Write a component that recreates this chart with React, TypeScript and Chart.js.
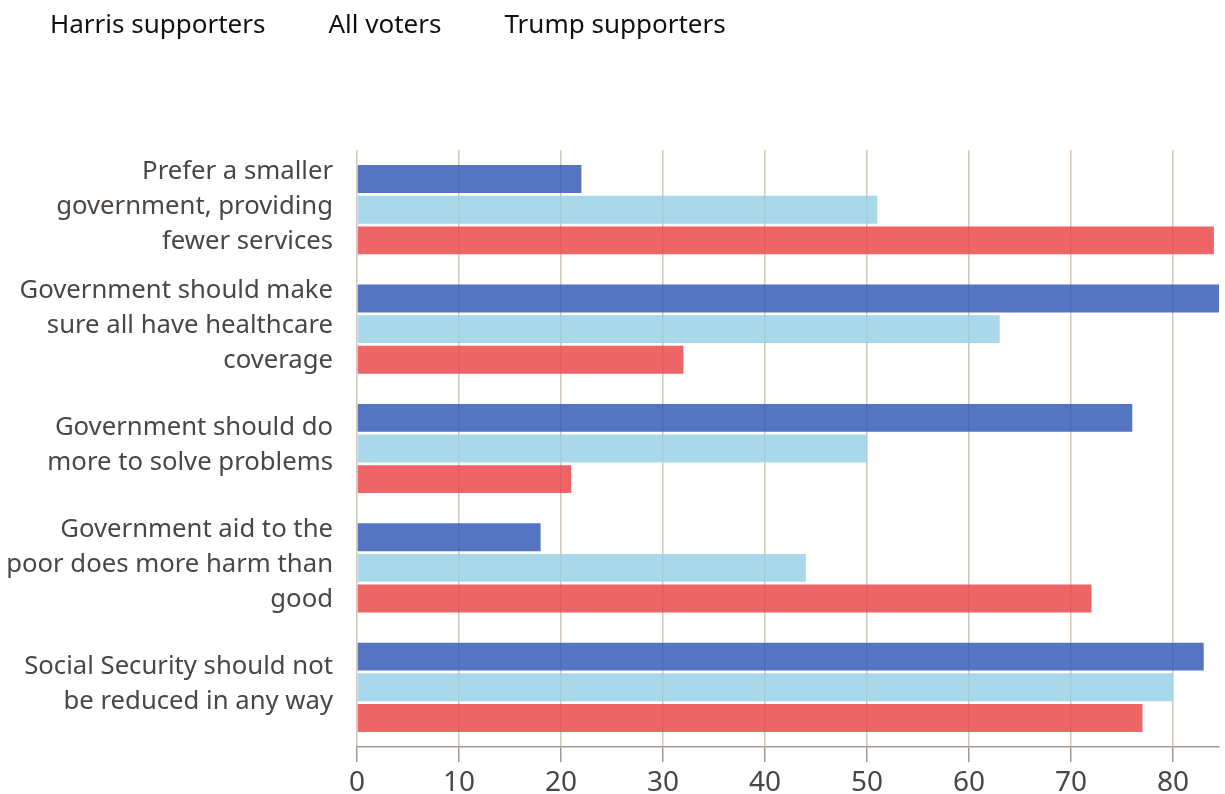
import React, { useEffect, useRef } from "react";
import { Chart, registerables } from "chart.js";

Chart.register(...registerables);

const categories: string[][] = [
  ["Prefer a smaller", "government, providing", "fewer services"],
  ["Government should make", "sure all have healthcare", "coverage"],
  ["Government should do", "more to solve problems"],
  ["Government aid to the", "poor does more harm than", "good"],
  ["Social Security should not", "be reduced in any way"],
];

const seriesNames = ["Harris supporters", "All voters", "Trump supporters"];
const harris = [22, 85, 76, 18, 83];
const allVoters = [51, 63, 50, 44, 80];
const trump = [84, 32, 21, 72, 77];
const xTicks = [0, 10, 20, 30, 40, 50, 60, 70, 80];

const colors = [
  "rgba(48,87,181,0.82)",
  "rgba(149,207,229,0.82)",
  "rgba(234,67,71,0.82)",
];

const FONT = "'Noto Sans', sans-serif";

export default function App() {
  const ref = useRef<HTMLCanvasElement | null>(null);
  useEffect(() => {
    if (!ref.current) return;
    const series = [harris, allVoters, trump];
    const chart = new Chart(ref.current, {
      type: "bar",
      data: {
        labels: categories,
        datasets: series.map((d, i) => ({
          label: seriesNames[i],
          data: d,
          backgroundColor: colors[i],
          borderWidth: 0,
          categoryPercentage: 0.77,
          barPercentage: 0.91,
        })),
      },
      options: {
        indexAxis: "y",
        responsive: false,
        animation: false,
        layout: { padding: { left: 0, right: 6, top: 0, bottom: 0 } },
        plugins: {
          tooltip: { enabled: false },
          legend: {
            display: true,
            position: "top",
            align: "start",
            labels: {
              boxWidth: 37,
              boxHeight: 26,
              padding: 13,
              color: "#111111",
              font: { family: FONT, size: 26 },
              generateLabels: (c: any) =>
                c.data.datasets.map((ds: any, i: number) => ({
                  text: ds.label,
                  fillStyle: "rgba(0,0,0,0)",
                  strokeStyle: "rgba(0,0,0,0)",
                  lineWidth: 0,
                  fontColor: "#111111",
                  hidden: false,
                  datasetIndex: i,
                })),
            },
          },
        },
        scales: {
          x: {
            type: "linear",
            min: 0,
            max: 84.5,
            afterFit: (s: any) => {
              s.height = 47;
            },
            afterBuildTicks: (s: any) => {
              s.ticks = xTicks.map((v) => ({ value: v }));
            },
            ticks: {
              includeBounds: false,
              color: "#4a4644",
              padding: 4,
              font: { family: FONT, size: 28 },
            },
            grid: {
              color: "#d2c6bb",
              lineWidth: 1.5,
              tickColor: "#a19a94",
              tickLength: 15,
              drawTicks: true,
            },
            border: { display: true, color: "#a19a94", width: 1.5 },
          },
          y: {
            type: "category",
            afterFit: (s: any) => {
              s.width = 370;
              s.paddingTop = 0;
              s.paddingBottom = 0;
            },
            ticks: {
              color: "#4a4644",
              padding: 24,
              labelOffset: -3,
              font: { family: FONT, size: 25.7, lineHeight: 1.362 },
            },
            grid: { display: false, drawTicks: false },
            border: { display: false },
          },
        },
      },
      plugins: [
        {
          id: "legendSpace",
          beforeInit(c: any) {
            const orig = c.legend.fit;
            c.legend.fit = function () {
              orig.bind(c.legend)();
              this.height = 150;
            };
          },
        },
      ],
    } as any);
    return () => chart.destroy();
  }, []);
  return (
    <div style={{ position: "fixed", left: -13, top: 0, width: 1238, height: 794 }}>
      <canvas ref={ref} width={1238} height={794} style={{ display: "block" }} />
    </div>
  );
}
